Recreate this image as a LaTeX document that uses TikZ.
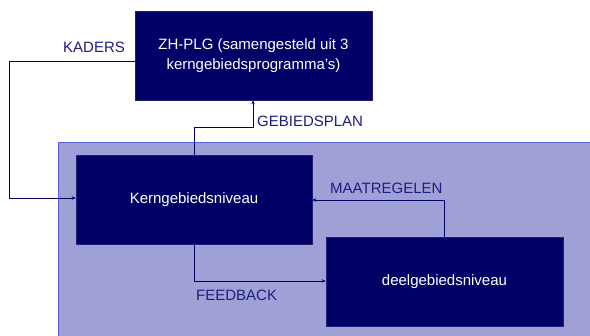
\documentclass[tikz,border=0pt]{standalone}
\usepackage{fontspec}
\setmainfont{Liberation Sans}
\usetikzlibrary{arrows.meta}
\definecolor{navy}{HTML}{000066}
\definecolor{lav}{HTML}{9FA0D6}
\definecolor{lavline}{HTML}{5A5CD8}
\definecolor{lbl}{HTML}{1E1E7E}
\tikzset{
  box/.style={fill=navy, draw=navy!80!lav, line width=0.6pt, text=white, font=\fontsize{15}{20}\selectfont, align=center, inner sep=0pt},
  conn/.style={draw=navy, line width=0.9pt, -{Stealth[length=4pt,width=3.5pt]}},
  lab/.style={text=lbl, font=\fontsize{15}{18}\selectfont, inner sep=0pt}
}
\begin{document}
\begin{tikzpicture}[x=1pt,y=-1pt]
\useasboundingbox (0,0) rectangle (590,336);
\clip (0,0) rectangle (590,336);
\fill[white] (0,0) rectangle (590,336);
\draw[fill=lav, draw=lavline, line width=1pt] (58,143) rectangle (600,345);
\node[box, minimum width=237pt, minimum height=89pt] (zh) at (253.5,55.5) {ZH-PLG (samengesteld uit 3\\kerngebiedsprogramma’s)};
\node[box, minimum width=236pt, minimum height=89pt] (kern) at (194,199.5) {Kerngebiedsniveau};
\node[box, minimum width=237pt, minimum height=89pt] (deel) at (444.5,281.5) {deelgebiedsniveau};
\coordinate (k1) at (9,61);
\coordinate (k2) at (9,198);
\draw[conn] (zh.west |- k1) -- (k1) -- (k2) -- (kern.west |- k2);
\coordinate (g1) at (194,127);
\coordinate (g2) at (253,127);
\draw[conn] (kern.north -| g1) -- (g1) -- (g2) -- (zh.south -| g2);
\coordinate (m1) at (444,200);
\draw[conn] (deel.north -| m1) -- (m1) -- (kern.east |- m1);
\coordinate (f1) at (194,281);
\draw[conn] (kern.south -| f1) -- (f1) -- (deel.west |- f1);
\node[lab, anchor=west] (lk) at (63,47) {KADERS};
\node[lab, anchor=west] (lg) at (257,121) {GEBIEDSPLAN};
\node[lab, anchor=west] (lm) at (330,188) {MAATREGELEN};
\node[lab, anchor=west] (lf) at (196,295) {FEEDBACK};
\end{tikzpicture}
\end{document}
